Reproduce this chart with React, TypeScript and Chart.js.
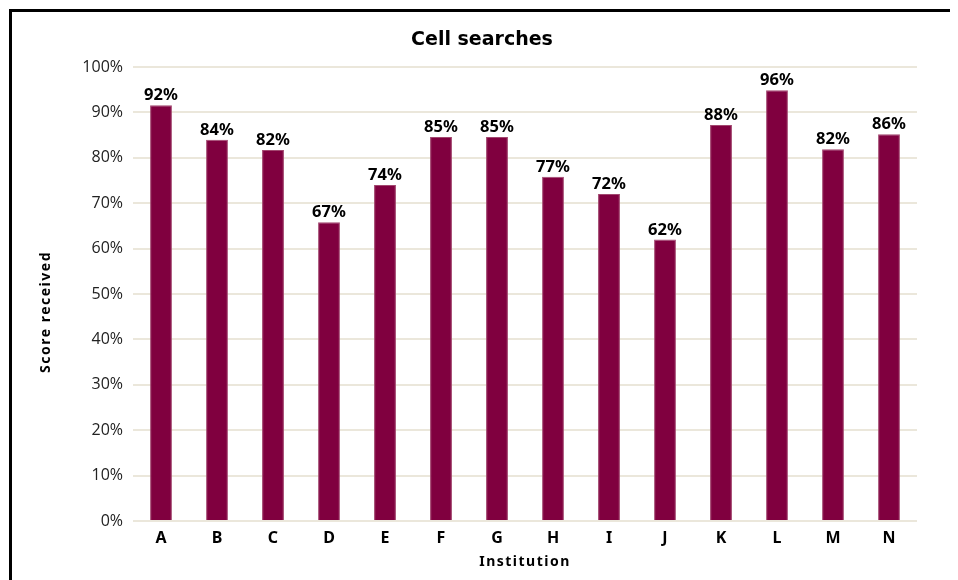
import React, { useEffect, useRef } from "react";
import { Chart, registerables } from "chart.js";

Chart.register(...registerables);

const categories = ["A", "B", "C", "D", "E", "F", "G", "H", "I", "J", "K", "L", "M", "N"];
const scores = [91.6, 84.0, 81.7, 65.8, 74.0, 84.6, 84.6, 75.8, 72.0, 62.0, 87.2, 94.9, 81.9, 85.2];
const scoreLabels = ["92%", "84%", "82%", "67%", "74%", "85%", "85%", "77%", "72%", "62%", "88%", "96%", "82%", "86%"];
const yTicks = [0, 10, 20, 30, 40, 50, 60, 70, 80, 90, 100];
const chartTitle = "Cell searches";
const xTitle = "Institution";
const yTitle = "Score received";

const textPlugin = {
  id: "textPlugin",
  afterDatasetsDraw(chart: any) {
    const ctx = chart.ctx;
    const meta = chart.getDatasetMeta(0);
    ctx.save();
    ctx.font = "bold 16.5px 'Noto Sans'";
    ctx.fillStyle = "#000";
    ctx.textAlign = "center";
    ctx.textBaseline = "alphabetic";
    meta.data.forEach((el: any, i: number) => {
      ctx.fillText(scoreLabels[i], el.x, el.y - 5);
    });
    ctx.restore();
  },
  afterDraw(chart: any) {
    const ctx = chart.ctx;
    const area = chart.chartArea;
    ctx.save();
    ctx.fillStyle = "#000";
    ctx.textAlign = "center";
    ctx.textBaseline = "middle";
    ctx.font = "bold 19px 'DejaVu Sans'";
    ctx.fillText(chartTitle, chart.width / 2, 28);
    ctx.font = "bold 14px 'Noto Sans'";
    (ctx as any).letterSpacing = "1.5px";
    ctx.fillText(xTitle, (area.left + area.right) / 2, 550);
    ctx.translate(34, 300);
    ctx.rotate(-Math.PI / 2);
    ctx.fillText(yTitle, 0, 0);
    ctx.restore();
  },
};

export default function App() {
  const ref = useRef<HTMLCanvasElement | null>(null);
  useEffect(() => {
    if (!ref.current) return;
    const chart = new Chart(ref.current, {
      type: "bar",
      data: {
        labels: categories,
        datasets: [
          {
            data: scores,
            backgroundColor: "#80003f",
            borderColor: "#a2476f",
            borderWidth: 1,
            barPercentage: 0.39,
            categoryPercentage: 1,
          },
        ],
      },
      options: {
        animation: false,
        responsive: true,
        maintainAspectRatio: false,
        layout: { padding: { top: 55, right: 35, left: 0, bottom: 0 } },
        plugins: {
          legend: { display: false },
          title: { display: false },
          tooltip: { enabled: false },
        },
        scales: {
          x: {
            grid: { display: false, drawTicks: false },
            border: { display: false },
            ticks: {
              color: "#000",
              font: { family: "'Noto Sans'", size: 16, weight: "bold" },
              padding: 8,
            },
            afterFit: (s: any) => {
              s.height = 91;
            },
          },
          y: {
            min: 0,
            max: 100,
            afterBuildTicks: (s: any) => {
              s.ticks = yTicks.map((v) => ({ value: v }));
            },
            grid: { color: "#ebe7db", lineWidth: 2, drawTicks: false },
            border: { display: false },
            ticks: {
              color: "#222",
              font: { family: "'Open Sans'", size: 16 },
              padding: 10,
              callback: (v: any) => v + "%",
            },
            afterFit: (s: any) => {
              s.width = 121;
            },
          },
        },
      },
      plugins: [textPlugin],
    });
    return () => chart.destroy();
  }, []);
  return (
    <div
      style={{
        marginLeft: 1,
        marginTop: 1,
        width: 940,
        height: 600,
        border: "3px solid #000",
        position: "relative",
        background: "#fff",
      }}
    >
      <canvas ref={ref} />
    </div>
  );
}
